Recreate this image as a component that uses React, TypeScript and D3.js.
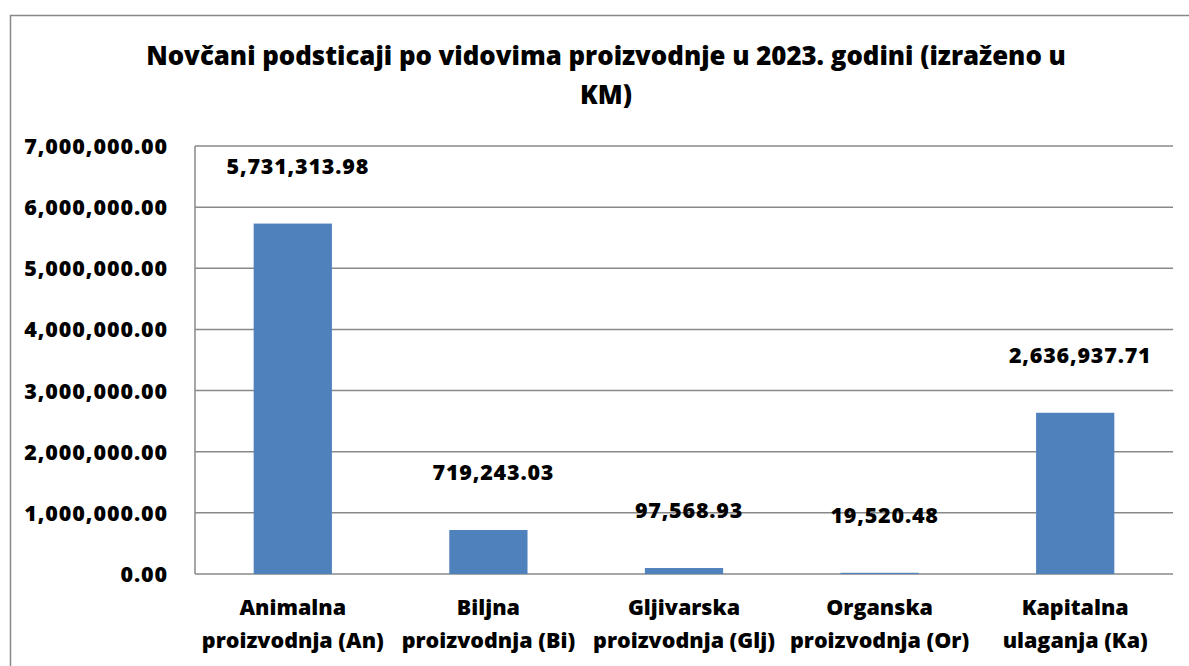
import React from 'react';
import * as d3 from 'd3';

const categories = [
  ['Animalna', 'proizvodnja (An)'],
  ['Biljna', 'proizvodnja (Bi)'],
  ['Gljivarska', 'proizvodnja (Glj)'],
  ['Organska', 'proizvodnja (Or)'],
  ['Kapitalna', 'ulaganja (Ka)'],
];
const values = [5731313.98, 719243.03, 97568.93, 19520.48, 2636937.71];
const yTicks = [0, 1000000, 2000000, 3000000, 4000000, 5000000, 6000000, 7000000];
const titleLines = ['Novčani podsticaji po vidovima proizvodnje u 2023. godini (izraženo u', 'KM)'];

const W = 1189;
const H = 666;
const left = 195;
const right = 1173;
const top = 146;
const bottom = 574;
const font = "'Open Sans', sans-serif";

const fmt = d3.format(',.2f');

export default function App() {
  const x = d3.scaleBand<number>()
    .domain(d3.range(values.length))
    .range([left, right])
    .paddingInner(0.6)
    .paddingOuter(0.3);
  const y = d3.scaleLinear().domain([0, 7000000]).range([bottom, top]);
  const cx = (i: number) => (x(i) ?? 0) + x.bandwidth() / 2;

  return (
    <svg width={W} height={H} style={{ position: 'absolute', left: 0, top: 0, background: '#fff' }}>
      <rect x={10.5} y={15.5} width={W + 20} height={H + 20} fill="#fff" stroke="#888" strokeWidth={1.5} />
      <g fontFamily={font} fontWeight={800} textAnchor="middle" fill="#000">
        {titleLines.map((t, i) => (
          <text key={i} x={606} y={65 + i * 39} fontSize={25.8}>{t}</text>
        ))}
      </g>
      {yTicks.map(t => (
        <g key={t}>
          <line x1={left} x2={right} y1={y(t)} y2={y(t)} stroke="#888" strokeWidth={1.5} />
          <text x={168} y={y(t) + 8} textAnchor="end" fontFamily={font} fontWeight={800} fontSize={21.5} letterSpacing={0.9}>{fmt(t)}</text>
        </g>
      ))}
      <line x1={left} x2={left} y1={top} y2={bottom} stroke="#888" strokeWidth={1.5} />
      {values.map((v, i) => (
        <rect key={i} x={x(i)} y={y(v)} width={x.bandwidth()} height={bottom - y(v)} fill="#4F81BD" />
      ))}
      <g fontFamily={font} fontWeight={800} textAnchor="middle" fontSize={21.5}>
        {values.map((v, i) => (
          <text key={i} x={cx(i) + 5} y={y(v) - 50} letterSpacing={0.8}>{fmt(v)}</text>
        ))}
        {categories.map((c, i) => (
          <g key={i}>
            <text x={cx(i)} y={615}>{c[0]}</text>
            <text x={cx(i)} y={648}>{c[1]}</text>
          </g>
        ))}
      </g>
    </svg>
  );
}
